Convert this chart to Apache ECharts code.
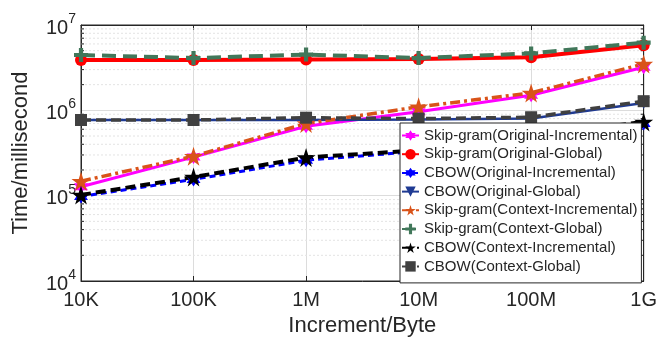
<!DOCTYPE html>
<html><head><meta charset="utf-8">
<script src="https://cdn.jsdelivr.net/npm/echarts@6/dist/echarts.min.js"></script>
<style>html,body{margin:0;padding:0;background:#fff}#c{width:660px;height:344px}</style>
</head><body><div id="c"></div>
<script>
const categories = ['10K','100K','1M','10M','100M','1G'];
const sgOrigInc  = [1.27e5, 2.83e5, 6.5e5, 9.6e5, 1.5e6, 3.2e6];
const sgOrigGlb  = [3.9e6, 3.9e6, 3.95e6, 4.0e6, 4.2e6, 5.8e6];
const cbOrigInc  = [9.8e4, 1.55e5, 2.6e5, 3.3e5, 4.9e5, 7.0e5];
const cbOrigGlb  = [7.7e5, 7.7e5, 7.7e5, 7.8e5, 8.0e5, 1.22e6];
const sgCtxInc   = [1.48e5, 2.9e5, 7.0e5, 1.1e6, 1.6e6, 3.5e6];
const sgCtxGlb   = [4.45e6, 4.1e6, 4.5e6, 4.1e6, 4.65e6, 6.2e6];
const cbCtxInc   = [1.02e5, 1.65e5, 2.8e5, 3.4e5, 5.0e5, 7.3e5];
const cbCtxGlb   = [7.7e5, 7.7e5, 8.2e5, 8.0e5, 8.3e5, 1.28e6];
const yTicks = [1e4, 1e5, 1e6, 1e7];
const seriesNames = ['Skip-gram(Original-Incremental)','Skip-gram(Original-Global)','CBOW(Original-Incremental)','CBOW(Original-Global)','Skip-gram(Context-Incremental)','Skip-gram(Context-Global)','CBOW(Context-Incremental)','CBOW(Context-Global)'];

// minor gridline positions (2..9 x each decade)
const minorVals = [];
for (let d = 0; d < yTicks.length - 1; d++) for (let m = 2; m <= 9; m++) minorVals.push([0, m * yTicks[d]]);

const HEX = 'path://M10 0 L12.89 5 L18.66 5 L15.77 10 L18.66 15 L12.89 15 L10 20 L7.11 15 L1.34 15 L4.23 10 L1.34 5 L7.11 5 Z';
const STAR = 'path://M10 0 L12.245 6.91 L19.51 6.91 L13.633 11.18 L15.878 18.09 L10 13.82 L4.122 18.09 L6.367 11.18 L0.49 6.91 L7.755 6.91 Z';
const PLUS = 'path://M3.5 0 H6.5 V3.5 H10 V6.5 H6.5 V10 H3.5 V6.5 H0 V3.5 H3.5 Z';

function mk(name, data, color, width, type, symbol, size, rot) {
  return {name, type:'line', data, symbol, symbolSize:size, symbolRotate:rot||0, showSymbol:true,
    lineStyle:{color, width, type}, itemStyle:{color, borderColor:color, borderWidth:0}, z:3};
}
const FONT = 'Liberation Sans, Arial, Helvetica, sans-serif';
const chart = echarts.init(document.getElementById('c'));
chart.setOption({
  animation:false,
  textStyle:{fontFamily:FONT, color:'#262626'},
  grid:{left:81, right:16, top:25, bottom:63, show:true, borderColor:'#262626', borderWidth:1},
  legend:{orient:'vertical', left:400, top:123, data:seriesNames,
    backgroundColor:'#fff', borderColor:'#262626', borderWidth:1,
    padding:[5,4,9,1], itemGap:3.7, itemWidth:17, itemHeight:13,
    textStyle:{fontSize:15, color:'#262626', fontFamily:FONT}},
  xAxis:[
    {type:'category', data:categories, boundaryGap:false, position:'bottom',
     axisLine:{show:true, lineStyle:{color:'#262626'}},
     axisTick:{inside:true, length:5, lineStyle:{color:'#262626'}},
     axisLabel:{fontSize:20, color:'#262626', margin:9},
     splitLine:{show:true, lineStyle:{color:'#dcdcdc', width:1}},
     name:'Increment/Byte', nameLocation:'middle', nameGap:31,
     nameTextStyle:{fontSize:22, color:'#262626'}},
    {type:'category', data:categories, boundaryGap:false, position:'top',
     axisLine:{show:true, lineStyle:{color:'#262626'}},
     axisTick:{inside:true, length:5, lineStyle:{color:'#262626'}},
     axisLabel:{show:false}, splitLine:{show:false}}
  ],
  yAxis:[
    {type:'log', logBase:10, min:1e4, max:1e7, position:'left',
     axisLine:{show:true, lineStyle:{color:'#262626'}},
     axisTick:{inside:true, length:5, lineStyle:{color:'#262626'}},
     axisLabel:{margin:5, color:'#262626', formatter:v=>'{b|10}{s|'+Math.round(Math.log10(v))+'}',
       rich:{b:{fontSize:20, fontFamily:FONT, color:'#262626', lineHeight:26, verticalAlign:'bottom'},
             s:{fontSize:14, fontFamily:FONT, color:'#262626', lineHeight:26, verticalAlign:'top'}}},
     splitLine:{show:true, lineStyle:{color:'#dcdcdc', width:1}},
     name:'Time/millisecond', nameLocation:'middle', nameGap:49,
     nameTextStyle:{fontSize:22, color:'#262626'}},
    {type:'log', logBase:10, min:1e4, max:1e7, position:'right',
     axisLine:{show:true, lineStyle:{color:'#262626'}},
     axisTick:{inside:true, length:5, lineStyle:{color:'#262626'}},
     axisLabel:{show:false}, splitLine:{show:false}}
  ],
  series:[
    {type:'custom', silent:true, z:1, data:minorVals, encode:{x:0, y:1},
     renderItem:(params, api)=>{
       const cs = params.coordSys;
       const y = api.coord([0, api.value(1)])[1];
       return {type:'group', children:[
         {type:'line', shape:{x1:cs.x, y1:y, x2:cs.x+cs.width, y2:y}, style:{stroke:'#e3e3e3', lineWidth:1, lineDash:[2,2]}},
         {type:'line', shape:{x1:cs.x, y1:y, x2:cs.x+3, y2:y}, style:{stroke:'#262626', lineWidth:1}},
         {type:'line', shape:{x1:cs.x+cs.width-3, y1:y, x2:cs.x+cs.width, y2:y}, style:{stroke:'#262626', lineWidth:1}}
       ]};
     }},
    mk(seriesNames[0], sgOrigInc, '#ff00ff', 3, 'solid', HEX, 14),
    mk(seriesNames[1], sgOrigGlb, '#ff0000', 4, 'solid', 'circle', 12),
    mk(seriesNames[2], cbOrigInc, '#0000ff', 3, [6,4], HEX, 14),
    mk(seriesNames[3], cbOrigGlb, '#1f3a93', 2.5, 'solid', 'triangle', 12, 180),
    mk(seriesNames[4], sgCtxInc, '#d95319', 3.5, [10,4,3,4], STAR, 19),
    mk(seriesNames[5], sgCtxGlb, '#41775a', 4, [14,7], PLUS, 14),
    mk(seriesNames[6], cbCtxInc, '#000000', 4, [10,5], STAR, 19),
    mk(seriesNames[7], cbCtxGlb, '#404040', 3.5, [10,5], 'rect', 12)
  ]
});
</script></body></html>
